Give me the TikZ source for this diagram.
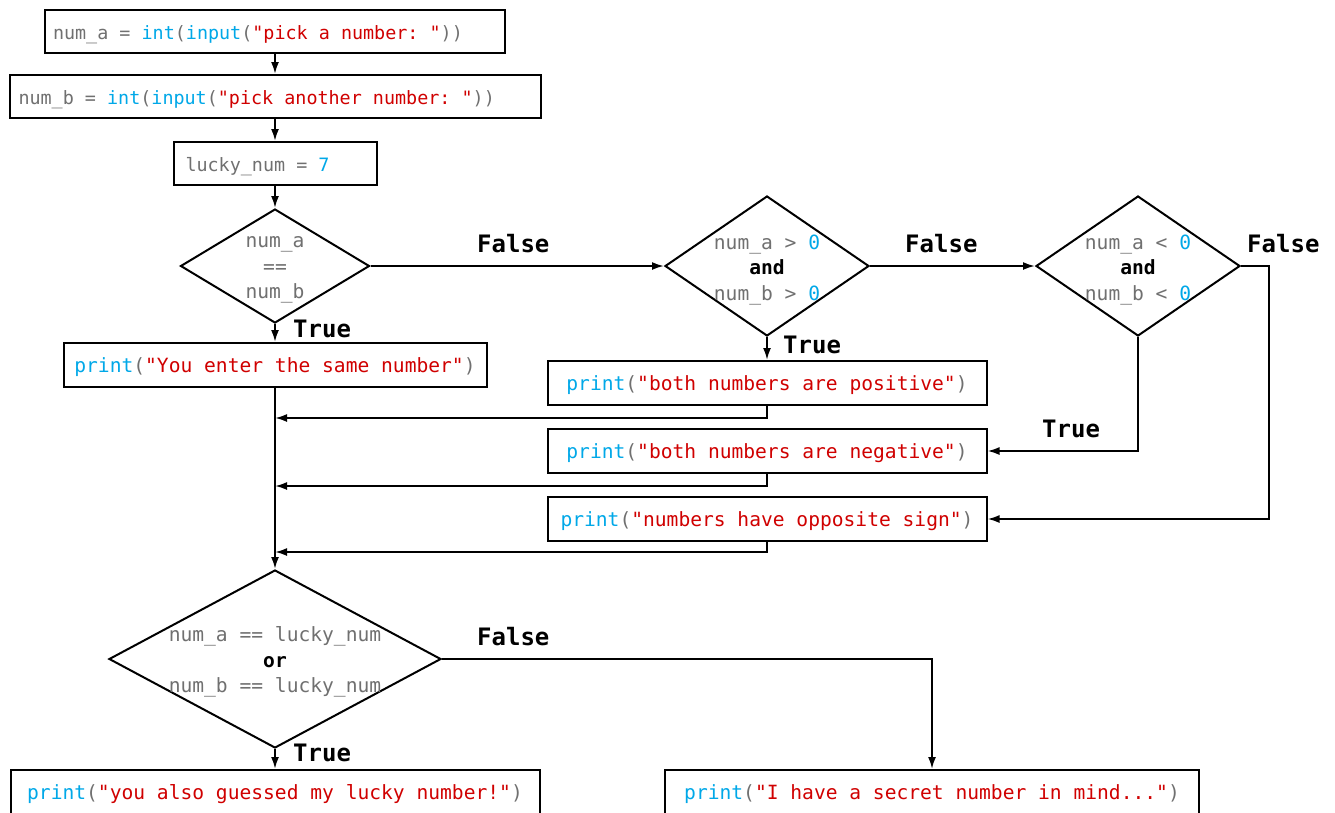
\documentclass[tikz,border=0pt]{standalone}
\usepackage{fontspec}
\setmonofont{DejaVu Sans Mono}
\usetikzlibrary{shapes.geometric,arrows.meta}
\definecolor{cgray}{RGB}{112,112,112}
\definecolor{cblue}{RGB}{0,168,232}
\definecolor{cred}{RGB}{208,0,0}
\newcommand\codevar[1]{\textcolor{cgray}{#1}}
\newcommand\codekw[1]{\textcolor{cblue}{#1}}
\newcommand\codestr[1]{\textcolor{cred}{#1}}
\newcommand\topfont{\ttfamily\fontsize{18.4}{24}\selectfont}
\newcommand\codefont{\ttfamily\fontsize{19.6}{25.5}\selectfont}
\newcommand\lblfont{\ttfamily\bfseries\fontsize{24}{28}\selectfont}
\tikzset{
  box/.style={draw, line width=2pt, minimum height=44pt, inner sep=0pt, font=\codefont, text height=17pt, text depth=1.5pt},
  topbox/.style={box, minimum height=43pt, font=\topfont},
  dia/.style={draw, diamond, line width=2pt, inner sep=0pt},
  diatext/.style={align=center, inner sep=0pt, font=\codefont, yshift=-4pt},
  lbl/.style={font=\lblfont, anchor=west, inner sep=0pt},
  arr/.style={line width=2pt, -{Latex[length=12pt,width=8pt]}},
}
\begin{document}
\begin{tikzpicture}[x=1pt,y=-1pt]
\useasboundingbox[fill=white] (0,0) rectangle (1335,812);
% top boxes
\node[topbox, inner xsep=8pt] (b1) at (275,31.5) {\makebox[444pt][l]{\codevar{num\_a = }\codekw{int}\codevar{(}\codekw{input}\codevar{(}\codestr{"pick a number: "}\codevar{))}}};
\node[topbox, inner xsep=9pt] (b2) at (275,96.5) {\makebox[513pt][l]{\codevar{num\_b = }\codekw{int}\codevar{(}\codekw{input}\codevar{(}\codestr{"pick another number: "}\codevar{))}}};
\node[topbox, inner xsep=12pt] (b3) at (275,163.5) {\makebox[179pt][l]{\codevar{lucky\_num = }\codekw{7}}};
% diamond 1
\node[dia, minimum width=189pt, minimum height=114pt] (d1) at (275,266) {};
\node[diatext] (t1) at (d1) {\codevar{num\_a}\\\codevar{==}\\\codevar{num\_b}};
\node[box, minimum width=423pt] (same) at (275,365) {\codekw{print}\codevar{(}\codestr{"You enter the same number"}\codevar{)}};
% diamond 2
\node[dia, minimum width=204pt, minimum height=140pt] (d2) at (767,266) {};
\node[diatext] (t2) at (d2) {\codevar{num\_a > }\codekw{0}\\\textbf{and}\\\codevar{num\_b > }\codekw{0}};
% diamond 3
\node[dia, minimum width=204pt, minimum height=140pt] (d3) at (1138,266) {};
\node[diatext] (t3) at (d3) {\codevar{num\_a < }\codekw{0}\\\textbf{and}\\\codevar{num\_b < }\codekw{0}};
% result boxes
\node[box, minimum width=439pt] (pos) at (767,383) {\codekw{print}\codevar{(}\codestr{"both numbers are positive"}\codevar{)}};
\node[box, minimum width=439pt] (neg) at (767,451) {\codekw{print}\codevar{(}\codestr{"both numbers are negative"}\codevar{)}};
\node[box, minimum width=439pt] (opp) at (767,519) {\codekw{print}\codevar{(}\codestr{"numbers have opposite sign"}\codevar{)}};
% diamond 4
\node[dia, minimum width=332pt, minimum height=178pt] (d4) at (275,659) {};
\node[diatext, yshift=1pt] (t4) at (d4) {\codevar{num\_a == lucky\_num}\\\textbf{or}\\\codevar{num\_b == lucky\_num}};
\node[box, minimum width=529pt] (lucky) at (275,792) {\codekw{print}\codevar{(}\codestr{"you also guessed my lucky number!"}\codevar{)}};
\node[box, minimum width=534pt] (secret) at (932,792) {\codekw{print}\codevar{(}\codestr{"I have a secret number in mind..."}\codevar{)}};
% connectors
\draw[arr] (b1) -- (b2);
\draw[arr] (b2) -- (b3);
\draw[arr] (b3) -- (d1);
\draw[arr] (d1) -- (same);
\draw[arr] (d1.east) -- (d2.west);
\draw[arr] (d2.east) -- (d3.west);
\draw[arr] (d2) -- (pos);
\draw[arr] (d3.south) |- (neg.east);
\draw[arr] (d3.east) -- ++(28,0) |- (opp.east);
\draw[arr] (same.south) -- (d4.north);
\draw[arr] (pos.south) -- ++(0,12) coordinate (r1) -- (r1 -| same.south);
\draw[arr] (neg.south) -- ++(0,12) coordinate (r2) -- (r2 -| same.south);
\draw[arr] (opp.south) -- ++(0,10) coordinate (r3) -- (r3 -| same.south);
\draw[arr] (d4) -- (lucky);
\draw[arr] (d4.east) -| (secret.north);
% labels
\node[lbl] (l1) at (293,329) {True};
\node[lbl] (l2) at (477,244) {False};
\node[lbl] (l3) at (905,244) {False};
\node[lbl] (l4) at (1247,244) {False};
\node[lbl] (l5) at (783,345) {True};
\node[lbl] (l6) at (1042,429) {True};
\node[lbl] (l7) at (477,637) {False};
\node[lbl] (l8) at (293,753) {True};
\end{tikzpicture}
\end{document}
